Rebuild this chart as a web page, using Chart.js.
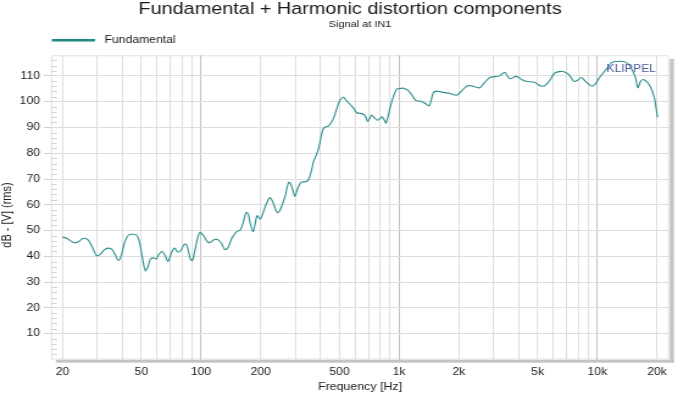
<!DOCTYPE html>
<html><head><meta charset="utf-8">
<script src="https://cdn.jsdelivr.net/npm/chart.js@4/dist/chart.umd.min.js"></script>
<style>
html,body{margin:0;padding:0;background:#fff;overflow:hidden;width:700px;height:397px}
#wrap{position:absolute;left:0;top:0;width:574px;height:397px;transform:scaleX(1.219512);transform-origin:0 0}
canvas{display:block}
</style></head><body>
<div id="wrap"><canvas id="c" width="574" height="397"></canvas></div>
<script>
// ---- data ----
const freqs = [
  20,21,22.7,24,25.5,27,28.5,29.7,31,32.5,
  34.1,35.5,37,38.2,39.5,41,43.1,45.5,47.5,49.1,
  50.5,52.3,53.7,55.5,57.5,59.5,61,63.6,66,68.3,
  71,73.6,76,78.7,82,84.2,86.5,88.5,90.6,93,
  96,99,104,108,111,117,122,127,132,137,
  143,151,158,163,169,173,177,183,187,192,
  199,206,214,223,232,242,249,256,266,277,
  284,290,298,308,318,330,337,349,360,370,
  380,392,400,413,425,441,455,468,485,505,
  524,540,556,572,587,610,635,660,680,693,
  710,725,745,775,800,821,840,858,880,904,
  930,970,1000,1054,1115,1160,1210,1260,1307,1360,
  1418,1450,1487,1545,1620,1703,1800,1949,2063,2188,
  2300,2450,2555,2700,2870,3050,3220,3410,3610,3900,
  4150,4380,4820,5200,5500,5780,6100,6700,7200,7600,
  7900,8300,8700,9400,9800,10200,11000,11800,12400,13500,
  14300,15000,15600,16000,16600,17200,18300,19400,20100
];
const fundamental = [
  47.5,47.0,45.4,45.6,47.0,46.3,43.0,40.3,40.8,42.5,
  43.2,42.7,40.5,38.4,40.0,45.0,48.3,48.6,48.2,45.0,
  40.0,34.4,35.5,38.9,39.4,39.0,40.5,42.0,40.2,38.1,
  41.5,43.2,41.8,42.0,44.5,44.7,42.0,38.8,38.4,42.0,
  47.0,49.3,47.5,45.6,45.4,46.5,46.4,45.0,42.6,43.5,
  47.0,49.5,50.2,53.0,57.0,56.5,53.0,49.6,52.0,55.8,
  54.5,57.0,60.5,62.8,60.5,57.0,57.5,59.7,63.5,68.8,
  68.0,66.0,63.3,66.5,68.5,69.0,68.9,69.8,73.0,76.8,
  79.0,81.8,85.0,89.4,90.2,90.6,92.0,93.8,97.5,100.8,
  101.7,100.5,99.5,98.5,97.6,95.7,95.5,95.1,94.0,92.3,
  93.5,94.8,94.0,92.8,93.5,94.1,93.0,91.7,94.5,98.2,
  101.5,104.8,105.1,105.2,104.2,102.5,100.5,100.2,100.0,99.2,
  98.4,100.5,103.5,104.1,103.8,103.5,103.2,102.5,104.1,106.0,
  106.2,105.6,105.4,107.5,109.4,109.7,110.1,111.4,108.9,109.8,
  108.6,107.9,107.5,106.0,106.5,108.5,111.1,111.7,110.4,107.9,
  108.2,109.4,107.9,106.0,107.0,109.1,112.2,115.1,115.6,115.6,
  114.7,112.2,109.1,105.4,108.1,108.5,106.6,101.5,93.9
];
const xGridValues = [20,30,40,50,60,70,80,90,100,200,300,400,500,600,700,800,900,
  1000,2000,3000,4000,5000,6000,7000,8000,9000,10000,20000];
const xLabelValues = [20,50,100,200,500,1000,2000,5000,10000,20000];
const xLabelTexts  = ['20','50','100','200','500','1k','2k','5k','10k','20k'];
const yTickValues = [10,20,30,40,50,60,70,80,90,100,110];
const yMinorValues = [2,4,6,8,12,14,16,18,22,24,26,28,32,34,36,38,42,44,46,48,52,54,56,58,
  62,64,66,68,72,74,76,78,82,84,86,88,92,94,96,98,102,104,106,108,112,114,116];

// ---- styling ----
const FONT = "'Liberation Sans', Arial, Helvetica, sans-serif";
Chart.defaults.font.family = FONT;
Chart.defaults.color = '#222';
const CURVE = '#2b8f8d';
const LEGEND_LINE = '#1f8a80';

const framePlugin = {
  id: 'frame',
  beforeDraw(chart) {
    const {ctx, chartArea: a} = chart;
    ctx.save();
    ctx.fillStyle = '#c4c4c4';
    ctx.fillRect(a.right + 0.6, a.top + 3.5, 3.4, a.height - 3.5 + 3.2);
    ctx.fillRect(a.left + 4, a.bottom + 0.2, a.width - 4 + 4, 3.0);
    ctx.strokeStyle = '#e2e2e2';
    ctx.lineWidth = 1;
    ctx.strokeRect(a.left + 0.5, a.top + 0.5, a.width - 1, a.height - 1);
    const ys = chart.scales.y;
    ctx.strokeStyle = '#d4d4d4';
    ctx.beginPath();
    for (const v of yMinorValues) {
      const py = Math.round(ys.getPixelForValue(v)) + 0.5;
      ctx.moveTo(a.left, py);
      ctx.lineTo(a.left + 5, py);
    }
    ctx.stroke();
    ctx.restore();
  },
  afterDatasetsDraw(chart) {
    const {ctx, chartArea: a} = chart;
    ctx.save();
    ctx.font = '10px ' + FONT;
    ctx.fillStyle = '#4a5a9c';
    ctx.textAlign = 'right';
    ctx.textBaseline = 'middle';
    ctx.fillText('KLIPPEL', a.right - 10.7, a.top + 14);
    ctx.restore();
  }
};

const legendShift = {
  id: 'legendShift',
  afterLayout(chart) {
    const lg = chart.legend;
    if (!lg) return;
    const dx = 42.4 - (lg.left + lg.options.labels.padding);
    lg.left += dx;
    lg.right += dx;
  }
};

const points = freqs.map((f, i) => ({x: f, y: fundamental[i]}));

new Chart(document.getElementById('c'), {
  type: 'line',
  data: {
    datasets: [{
      label: 'Fundamental',
      data: points,
      borderColor: CURVE,
      backgroundColor: LEGEND_LINE,
      borderWidth: 1.1,
      pointRadius: 0,
      tension: 0.3,
      fill: false
    }]
  },
  options: {
    responsive: false,
    animation: false,
    devicePixelRatio: 1,
    layout: {padding: {left: 0, right: 0, top: 0, bottom: 0}},
    plugins: {
      title: {
        display: true,
        text: 'Fundamental + Harmonic distortion components',
        color: '#1a1a1a',
        font: {size: 16.3, weight: 'normal', lineHeight: 1.2},
        padding: {top: 0, bottom: 0}
      },
      subtitle: {
        display: true,
        fullSize: false,
        text: 'Signal at IN1',
        color: '#1a1a1a',
        font: {size: 9, weight: 'normal', lineHeight: 1.2},
        padding: {top: 0, bottom: 0.4}
      },
      legend: {
        display: true,
        position: 'top',
        align: 'start',
        labels: {
          boxWidth: 35.5,
          boxHeight: 2.5,
          padding: 4.5,
          color: '#1a1a1a',
          font: {size: 10},
          generateLabels: (chart) =>
            Chart.defaults.plugins.legend.labels.generateLabels(chart).map(l =>
              Object.assign(l, {text: ' ' + l.text, lineWidth: 0, fillStyle: LEGEND_LINE}))
        }
      },
      tooltip: {enabled: false}
    },
    scales: {
      x: {
        type: 'logarithmic',
        position: 'bottom',
        min: 17.5,
        max: 23000,
        afterBuildTicks: (s) => { s.ticks = xGridValues.map(v => ({value: v})); },
        afterFit: (s) => { s.height = 37.5; },
        ticks: {
          autoSkip: false,
          maxRotation: 0,
          minRotation: 0,
          padding: 6.8,
          font: {size: 10},
          color: '#222',
          callback: (v) => {
            const i = xLabelValues.indexOf(v);
            return i >= 0 ? xLabelTexts[i] : '';
          }
        },
        grid: {
          drawTicks: false,
          lineWidth: 1,
          color: (c) => {
            const v = c.tick ? c.tick.value : 0;
            return (v === 100 || v === 1000 || v === 10000) ? '#c2c2c2' : '#dedede';
          }
        },
        border: {display: false},
        title: {
          display: true,
          text: 'Frequency [Hz]',
          color: '#222',
          font: {size: 10.2, lineHeight: 1.2},
          padding: {top: 0, bottom: 3.2}
        }
      },
      y: {
        position: 'left',
        min: 0,
        max: 118,
        afterBuildTicks: (s) => { s.ticks = yTickValues.map(v => ({value: v})); },
        afterFit: (s) => { s.width = 41.8; },
        ticks: {padding: 3, font: {size: 10}, color: '#222'},
        grid: {tickLength: 6, color: '#dedede', tickColor: '#d0d0d0', drawTicks: true},
        border: {display: false},
        title: {
          display: true,
          text: 'dB - [V] (rms)     ',
          color: '#222',
          font: {size: 11, lineHeight: 1},
          padding: {top: 0, bottom: 0}
        }
      },
      yRight: {
        position: 'right',
        display: true,
        afterFit: (s) => { s.width = 25.4; },
        ticks: {display: false},
        grid: {display: false, drawTicks: false},
        border: {display: false}
      }
    }
  },
  plugins: [framePlugin, legendShift]
});
</script>
</body></html>
